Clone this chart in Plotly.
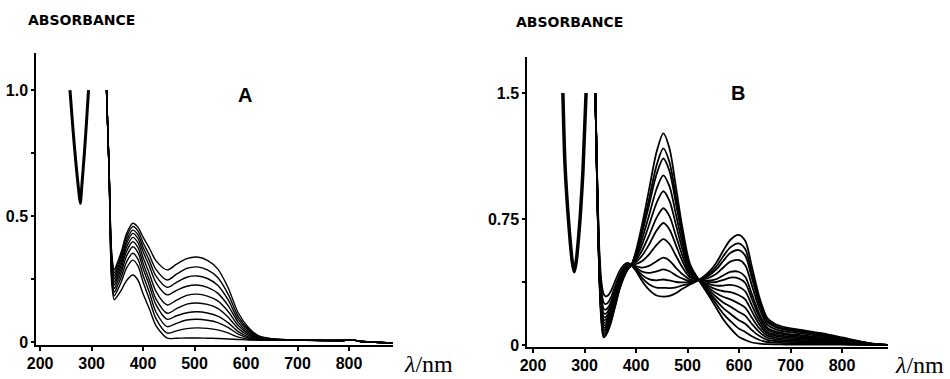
import plotly.graph_objects as go

W, H = 950, 379

# ---------------- Panel A ----------------
a_uv_wl = [258, 264, 270, 275, 278, 281, 286, 290, 294]
a_uv_abs = [1.0, 0.84, 0.70, 0.60, 0.55, 0.62, 0.75, 0.87, 1.0]

wl_a = [329, 334, 339, 344, 350, 358, 368, 380, 390, 400, 412, 425, 447, 465,
        485, 505, 525, 545, 565, 585, 605, 625, 655, 700, 790, 805, 820, 888]

a_spec_01 = [1.0, 0.68, 0.356, 0.286, 0.314, 0.360, 0.430, 0.471, 0.456, 0.416, 0.373, 0.323, 0.286, 0.309,
             0.331, 0.337, 0.324, 0.290, 0.216, 0.115, 0.057, 0.024, 0.012, 0.008, 0.006, 0.009, 0.003, -0.004]
a_spec_02 = [1.0, 0.68, 0.344, 0.274, 0.302, 0.348, 0.418, 0.458, 0.441, 0.394, 0.346, 0.288, 0.246, 0.269,
             0.292, 0.298, 0.286, 0.256, 0.191, 0.101, 0.051, 0.021, 0.011, 0.008, 0.006, 0.009, 0.003, -0.004]
a_spec_03 = [1.0, 0.68, 0.332, 0.262, 0.289, 0.335, 0.404, 0.444, 0.426, 0.376, 0.324, 0.262, 0.217, 0.237,
             0.257, 0.262, 0.252, 0.225, 0.168, 0.089, 0.045, 0.018, 0.011, 0.008, 0.006, 0.009, 0.003, -0.004]
a_spec_04 = [1.0, 0.68, 0.320, 0.250, 0.277, 0.322, 0.391, 0.431, 0.411, 0.358, 0.302, 0.236, 0.187, 0.205,
             0.221, 0.226, 0.217, 0.194, 0.145, 0.077, 0.038, 0.016, 0.010, 0.008, 0.006, 0.009, 0.003, -0.004]
a_spec_05 = [1.0, 0.68, 0.308, 0.238, 0.265, 0.309, 0.376, 0.415, 0.394, 0.335, 0.273, 0.201, 0.147, 0.166,
             0.185, 0.190, 0.182, 0.163, 0.122, 0.065, 0.032, 0.014, 0.010, 0.008, 0.006, 0.009, 0.003, -0.004]
a_spec_06 = [1.0, 0.68, 0.296, 0.226, 0.252, 0.295, 0.360, 0.398, 0.375, 0.313, 0.247, 0.171, 0.114, 0.132,
             0.150, 0.155, 0.149, 0.133, 0.099, 0.053, 0.026, 0.012, 0.009, 0.008, 0.006, 0.009, 0.003, -0.004]
a_spec_07 = [1.0, 0.68, 0.282, 0.212, 0.237, 0.278, 0.341, 0.378, 0.355, 0.292, 0.225, 0.148, 0.090, 0.104,
             0.116, 0.120, 0.115, 0.103, 0.077, 0.041, 0.020, 0.010, 0.009, 0.008, 0.006, 0.009, 0.003, -0.004]
a_spec_08 = [1.0, 0.68, 0.268, 0.198, 0.221, 0.260, 0.318, 0.352, 0.329, 0.265, 0.198, 0.119, 0.061, 0.074,
             0.087, 0.090, 0.086, 0.077, 0.058, 0.031, 0.016, 0.009, 0.008, 0.008, 0.006, 0.009, 0.003, -0.004]
a_spec_09 = [1.0, 0.68, 0.253, 0.183, 0.204, 0.240, 0.294, 0.325, 0.302, 0.238, 0.171, 0.093, 0.035, 0.044,
             0.053, 0.056, 0.054, 0.048, 0.036, 0.019, 0.011, 0.008, 0.008, 0.008, 0.006, 0.009, 0.003, -0.004]
a_spec_10 = [1.0, 0.68, 0.237, 0.167, 0.182, 0.207, 0.244, 0.266, 0.246, 0.191, 0.133, 0.065, 0.015, 0.015,
             0.016, 0.016, 0.015, 0.014, 0.012, 0.010, 0.008, 0.007, 0.007, 0.008, 0.006, 0.009, 0.003, -0.004]

a_spectra = [a_spec_01, a_spec_02, a_spec_03, a_spec_04, a_spec_05,
             a_spec_06, a_spec_07, a_spec_08, a_spec_09, a_spec_10]

# ---------------- Panel B ----------------
b_uv_wl = [258, 262, 267, 272, 276, 280, 284, 288, 292, 297, 303]
b_uv_abs = [1.5, 1.08, 0.82, 0.625, 0.50, 0.436, 0.50, 0.625, 0.78, 1.04, 1.5]

wl_b = [321, 325, 329, 333, 337, 341, 346, 352, 360, 368, 376, 384, 391, 400, 412, 425, 440, 453, 465, 478,
        490, 505, 522, 540, 556, 570, 583, 599, 612, 625, 640, 655, 670, 690, 720, 760, 800, 830, 860, 888]

b_spec_01 = [1.5, 0.85, 0.38, 0.13, 0.045, 0.055, 0.085, 0.14, 0.235, 0.33, 0.40, 0.45, 0.476,
             0.56, 0.72, 0.92, 1.15, 1.26, 1.17, 0.93, 0.70, 0.48, 0.387,
             0.30, 0.22, 0.15, 0.10, 0.05, 0.03, 0.015, 0.008, 0.005, 0.004, 0.003, 0.003, 0.002, 0.002, 0.001, 0.0, 0.0]
b_spec_02 = [1.5, 0.855, 0.389, 0.143, 0.059, 0.068, 0.096, 0.150, 0.243, 0.336, 0.404, 0.452, 0.476,
             0.549, 0.688, 0.865, 1.070, 1.170, 1.088, 0.872, 0.666, 0.469, 0.387,
             0.311, 0.242, 0.184, 0.143, 0.099, 0.078, 0.052, 0.030, 0.018, 0.014, 0.011, 0.010, 0.008, 0.005, 0.003, 0.001, 0.0]
b_spec_03 = [1.5, 0.861, 0.398, 0.156, 0.073, 0.080, 0.108, 0.160, 0.251, 0.342, 0.408, 0.454, 0.476,
             0.542, 0.668, 0.829, 1.018, 1.110, 1.035, 0.835, 0.644, 0.462, 0.387,
             0.321, 0.264, 0.218, 0.186, 0.149, 0.127, 0.089, 0.053, 0.030, 0.024, 0.020, 0.017, 0.013, 0.009, 0.005, 0.001, 0.0]
b_spec_04 = [1.5, 0.867, 0.408, 0.170, 0.088, 0.094, 0.120, 0.171, 0.260, 0.348, 0.412, 0.456, 0.476,
             0.529, 0.633, 0.768, 0.930, 1.010, 0.944, 0.771, 0.606, 0.449, 0.387,
             0.332, 0.286, 0.252, 0.229, 0.198, 0.175, 0.125, 0.075, 0.043, 0.034, 0.028, 0.024, 0.019, 0.013, 0.007, 0.002, 0.0]
b_spec_05 = [1.5, 0.872, 0.418, 0.183, 0.103, 0.107, 0.132, 0.181, 0.268, 0.354, 0.417, 0.458, 0.476,
             0.517, 0.599, 0.711, 0.846, 0.915, 0.858, 0.710, 0.570, 0.437, 0.387,
             0.343, 0.308, 0.286, 0.272, 0.248, 0.223, 0.162, 0.097, 0.056, 0.044, 0.036, 0.031, 0.024, 0.016, 0.009, 0.003, 0.0]
b_spec_06 = [1.5, 0.878, 0.428, 0.197, 0.118, 0.121, 0.144, 0.192, 0.277, 0.361, 0.421, 0.461, 0.476,
             0.505, 0.564, 0.649, 0.758, 0.814, 0.767, 0.645, 0.532, 0.425, 0.387,
             0.353, 0.331, 0.320, 0.315, 0.298, 0.272, 0.200, 0.120, 0.069, 0.054, 0.045, 0.039, 0.030, 0.020, 0.011, 0.003, 0.0]
b_spec_07 = [1.5, 0.884, 0.438, 0.212, 0.134, 0.135, 0.157, 0.203, 0.286, 0.368, 0.426, 0.463, 0.476,
             0.494, 0.533, 0.596, 0.681, 0.726, 0.688, 0.590, 0.500, 0.414, 0.387,
             0.364, 0.353, 0.354, 0.358, 0.347, 0.320, 0.236, 0.142, 0.081, 0.063, 0.053, 0.046, 0.035, 0.023, 0.013, 0.004, 0.0]
b_spec_08 = [1.5, 0.890, 0.449, 0.227, 0.150, 0.150, 0.170, 0.215, 0.295, 0.374, 0.430, 0.465, 0.476,
             0.482, 0.500, 0.538, 0.596, 0.630, 0.601, 0.528, 0.463, 0.402, 0.387,
             0.375, 0.375, 0.388, 0.401, 0.397, 0.369, 0.274, 0.164, 0.094, 0.073, 0.062, 0.053, 0.041, 0.027, 0.015, 0.005, 0.0]
b_spec_09 = [1.5, 0.897, 0.460, 0.244, 0.168, 0.166, 0.185, 0.228, 0.306, 0.382, 0.435, 0.468, 0.476,
             0.469, 0.461, 0.471, 0.499, 0.520, 0.502, 0.458, 0.422, 0.389, 0.387,
             0.383, 0.392, 0.415, 0.435, 0.436, 0.406, 0.303, 0.182, 0.104, 0.081, 0.068, 0.059, 0.045, 0.029, 0.016, 0.005, 0.0]
b_spec_10 = [1.5, 0.906, 0.475, 0.263, 0.190, 0.186, 0.202, 0.243, 0.318, 0.391, 0.442, 0.471, 0.476,
             0.460, 0.437, 0.429, 0.438, 0.450, 0.439, 0.414, 0.396, 0.380, 0.387,
             0.398, 0.424, 0.463, 0.496, 0.506, 0.475, 0.355, 0.213, 0.122, 0.095, 0.080, 0.069, 0.053, 0.034, 0.019, 0.006, 0.0]
b_spec_11 = [1.5, 0.916, 0.492, 0.288, 0.216, 0.210, 0.224, 0.262, 0.334, 0.402, 0.449, 0.475, 0.476,
             0.453, 0.416, 0.392, 0.385, 0.390, 0.384, 0.375, 0.373, 0.373, 0.387,
             0.411, 0.450, 0.503, 0.547, 0.565, 0.532, 0.399, 0.239, 0.137, 0.107, 0.090, 0.077, 0.060, 0.039, 0.021, 0.007, 0.0]
b_spec_12 = [1.5, 0.930, 0.516, 0.322, 0.254, 0.243, 0.254, 0.288, 0.355, 0.418, 0.460, 0.480, 0.476,
             0.446, 0.398, 0.362, 0.341, 0.340, 0.339, 0.343, 0.355, 0.366, 0.387,
             0.419, 0.468, 0.531, 0.581, 0.605, 0.571, 0.429, 0.257, 0.147, 0.115, 0.097, 0.083, 0.064, 0.041, 0.023, 0.007, 0.0]
b_spec_13 = [1.5, 0.95, 0.55, 0.37, 0.305, 0.29, 0.296, 0.325, 0.385, 0.44, 0.475, 0.488, 0.476,
             0.44, 0.38, 0.33, 0.295, 0.288, 0.292, 0.31, 0.335, 0.36, 0.387,
             0.43, 0.49, 0.565, 0.625, 0.655, 0.62, 0.466, 0.28, 0.16, 0.125, 0.105, 0.09, 0.07, 0.045, 0.025, 0.008, 0.0]

b_spectra = [b_spec_01, b_spec_02, b_spec_03, b_spec_04, b_spec_05, b_spec_06, b_spec_07,
             b_spec_08, b_spec_09, b_spec_10, b_spec_11, b_spec_12, b_spec_13]

x_ticks = [200, 300, 400, 500, 600, 700, 800]
x_tick_text = ["200", "300", "400", "500", "600", "700", "800"]
a_y_ticks = [0, 0.25, 0.5, 0.75, 1.0]
a_y_text = ["0", "", "0.5", "", "1.0"]
b_y_ticks = [0, 0.375, 0.75, 1.5]
b_y_text = ["0", "", "0.75", "1.5"]

fig = go.Figure()


def add_line(x, y, xa, ya, width):
    fig.add_trace(go.Scatter(x=x, y=y, mode="lines", xaxis=xa, yaxis=ya,
                             line=dict(color="black", width=width, shape="spline", smoothing=0.8),
                             hoverinfo="skip", showlegend=False))


add_line(a_uv_wl, a_uv_abs, "x", "y", 3)
for s in a_spectra:
    add_line(wl_a, s, "x", "y", 1.4)

add_line(b_uv_wl, b_uv_abs, "x2", "y2", 3.5)
for s in b_spectra:
    add_line(wl_b, s, "x2", "y2", 1.8)


def px(x):
    return x / W


def py(y):
    return 1 - y / H


tick_font = dict(family="Liberation Sans", size=16, color="black", weight="bold")

common_x = dict(showline=True, linecolor="black", linewidth=2, ticks="outside", ticklen=4, tickwidth=1.5,
                tickcolor="black", tickvals=x_ticks, ticktext=x_tick_text, tickfont=tick_font,
                showgrid=False, zeroline=False, ticklabelstandoff=-1, fixedrange=True, automargin=False)
common_y = dict(showline=True, linecolor="black", linewidth=1.5, ticks="outside", ticklen=3, tickwidth=1.5,
                tickcolor="black", tickfont=tick_font, showgrid=False, zeroline=False,
                ticklabelstandoff=0, fixedrange=True, automargin=False)

fig.update_layout(
    template="none",
    width=W, height=H, autosize=False,
    margin=dict(l=0, r=0, t=0, b=0, pad=0),
    paper_bgcolor="white", plot_bgcolor="white",
    showlegend=False,
    xaxis=dict(domain=[px(36), px(393)], range=[192, 885.5], anchor="y", **common_x),
    yaxis=dict(domain=[py(345), py(53)], range=[-0.012, 1.147], anchor="x",
               tickvals=a_y_ticks, ticktext=a_y_text, **common_y),
    xaxis2=dict(domain=[px(527), px(888)], range=[188.3, 889.3], anchor="y2", **common_x),
    yaxis2=dict(domain=[py(346.7), py(57)], range=[-0.01, 1.714], anchor="x2",
                tickvals=b_y_ticks, ticktext=b_y_text, **common_y),
)

label_font = dict(family="DejaVu Sans", size=14, color="black", weight="bold")
panel_font = dict(family="Liberation Sans", size=20, color="black", weight="bold")
unit_font = dict(family="Liberation Serif", size=24, color="black")

annots = [
    dict(text="ABSORBANCE", x=px(26), y=py(20), xanchor="left", yanchor="middle", font=label_font),
    dict(text="ABSORBANCE", x=px(514), y=py(22), xanchor="left", yanchor="middle", font=label_font),
    dict(text="A", x=px(245), y=py(95), xanchor="center", yanchor="middle", font=panel_font),
    dict(text="B", x=px(737.5), y=py(92.5), xanchor="center", yanchor="middle", font=panel_font),
    dict(text="<i>λ</i>/nm", x=px(402), y=py(364), xanchor="left", yanchor="middle", font=unit_font),
    dict(text="<i>λ</i>/nm", x=px(893), y=py(365), xanchor="left", yanchor="middle", font=unit_font),
]
for a in annots:
    fig.add_annotation(xref="paper", yref="paper", showarrow=False, **a)

fig.write_html("out.html", config={"responsive": False, "displayModeBar": False},
               post_script="document.body.style.margin='0';document.body.style.overflow='hidden';")
